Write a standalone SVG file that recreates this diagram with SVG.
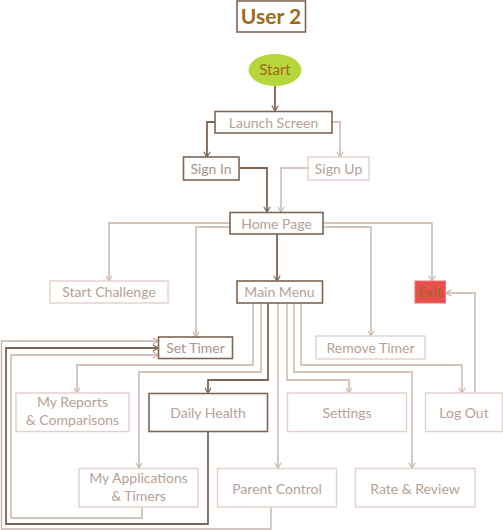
<svg xmlns="http://www.w3.org/2000/svg" width="503" height="530" viewBox="0 0 503 530">
<style>
.bd{fill:#fff;stroke:#7d6556;stroke-width:1.6}
.bl{fill:#fff;stroke:#e0d1ca;stroke-width:1.4}
.t{font-family:Lato,"Liberation Sans",sans-serif;font-size:14px;fill:#b5a196;text-anchor:middle}
.ct{fill:none;stroke-linejoin:miter}
.cd{stroke:#7d6556;stroke-width:1.8;marker-end:url(#ad)}
.cl{stroke:#c7b3a9;stroke-width:1.4;marker-end:url(#al)}
</style>
<defs>
<marker id="ad" viewBox="0 0 10 10" refX="9.5" refY="5" markerUnits="userSpaceOnUse" markerWidth="8" markerHeight="8" orient="auto"><path d="M3,1 L9.5,5 L3,9" fill="none" stroke="#7d6556" stroke-width="1.5"/></marker>
<marker id="al" viewBox="0 0 10 10" refX="9.5" refY="5" markerUnits="userSpaceOnUse" markerWidth="8" markerHeight="8" orient="auto"><path d="M3,1 L9.5,5 L3,9" fill="none" stroke="#c7b3a9" stroke-width="1.4"/></marker>
</defs>
<rect width="503" height="530" fill="#fff"/>
<g id="connectors" class="ct">
<path class="cd" d="M275,86 V111"/>
<path class="cd" d="M215,122 H207 V157"/>
<path class="cl" d="M332,122 H340 V157"/>
<path class="cd" d="M239,168 H267 V212"/>
<path class="cl" d="M308,168 H281 V212"/>
<path class="cl" d="M230,223 H109 V281"/>
<path class="cl" d="M230,227 H196 V337"/>
<path class="cl" d="M323,223 H432 V281"/>
<path class="cl" d="M323,227 H371 V336"/>
<path class="cd" d="M277,234 V281"/>
<path class="cl" d="M253,303 V365 H77 V393"/>
<path class="cl" d="M261,303 V372 H139 V468"/>
<path class="cd" d="M268,303 V380 H208 V393"/>
<path class="cl" d="M278,303 V468"/>
<path class="cl" d="M287,303 V380 H349 V393"/>
<path class="cl" d="M294,303 V372 H412 V468"/>
<path class="cl" d="M301,303 V365 H462 V393"/>
<path class="cl" d="M475,393 V293 H446"/>
<path class="cl" d="M142,507 V518 H11 V355 H158"/>
<path class="cd" d="M208,432 V524 H6 V348 H158"/>
<path class="cl" d="M271,507 V529 H1.5 V341 H158"/>
</g>
<g id="title"><rect x="237" y="1" width="68.5" height="31" class="bd"/><text x="271" y="23.5" style="font-family:Lato,'Liberation Sans',sans-serif;font-size:21px;font-weight:bold;fill:#9b6a1a;text-anchor:middle">User 2</text></g>
<g id="start"><ellipse cx="275" cy="70" rx="26.5" ry="16" fill="#b7d63c"/><text x="275" y="75" class="t" style="fill:#9b6a1a;font-size:15px">Start</text></g>
<g id="launch"><rect x="215" y="111.5" width="117" height="21.5" class="bd"/><text x="273.5" y="127.5" class="t">Launch Screen</text></g>
<g id="signin"><rect x="183.5" y="157" width="55.5" height="23" class="bd"/><text x="211" y="173.5" class="t" style="fill:#a89489">Sign In</text></g>
<g id="signup"><rect x="308" y="157" width="61" height="23" class="bl"/><text x="338.5" y="173.5" class="t">Sign Up</text></g>
<g id="home"><rect x="230" y="212.5" width="93" height="21.5" class="bd"/><text x="276.5" y="228.5" class="t">Home Page</text></g>
<g id="startchallenge"><rect x="50" y="281" width="118" height="22" class="bl"/><text x="109" y="297" class="t">Start Challenge</text></g>
<g id="mainmenu"><rect x="237" y="281" width="85.5" height="22" class="bd"/><text x="279.5" y="297" class="t">Main Menu</text></g>
<g id="exit"><rect x="415" y="281" width="30.5" height="22" fill="#e84e4e" stroke="#e77" stroke-width="1"/><text x="430" y="297" class="t" style="fill:#9b6a1a">Exit</text></g>
<g id="settimer"><rect x="158.5" y="337" width="74" height="21.5" class="bd"/><text x="195.5" y="353" class="t" style="fill:#a89489">Set Timer</text></g>
<g id="removetimer"><rect x="316" y="336" width="109" height="23" class="bl"/><text x="370.5" y="352.5" class="t">Remove Timer</text></g>
<g id="myreports"><rect x="16" y="393" width="113" height="38.5" class="bl"/><text x="72.5" y="407" class="t">My Reports</text><text x="72.5" y="425" class="t">&amp; Comparisons</text></g>
<g id="dailyhealth"><rect x="149" y="393.5" width="118.5" height="38" class="bd"/><text x="208" y="418" class="t">Daily Health</text></g>
<g id="settings"><rect x="287.5" y="393" width="119" height="38.5" class="bl"/><text x="347" y="418" class="t">Settings</text></g>
<g id="logout"><rect x="425.5" y="393" width="77" height="38.5" class="bl"/><text x="464" y="418" class="t">Log Out</text></g>
<g id="myapps"><rect x="79" y="468.5" width="119" height="38.5" class="bl"/><text x="138.5" y="483" class="t">My Applications</text><text x="138.5" y="501" class="t">&amp; Timers</text></g>
<g id="parentcontrol"><rect x="217.5" y="468.5" width="119" height="38.5" class="bl"/><text x="277" y="494" class="t">Parent Control</text></g>
<g id="rate"><rect x="355.5" y="468.5" width="119.5" height="38.5" class="bl"/><text x="415" y="494" class="t">Rate &amp; Review</text></g>
</svg>
